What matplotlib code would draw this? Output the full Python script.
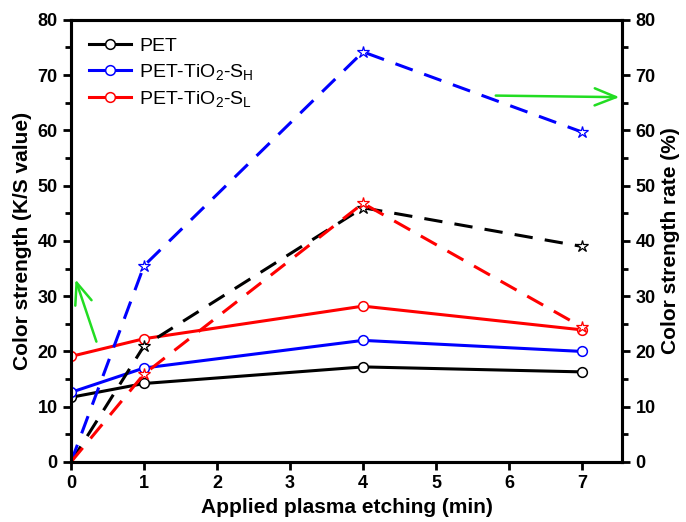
import numpy as np
import matplotlib.pyplot as plt
from matplotlib.ticker import MultipleLocator

plt.rcParams['font.family'] = ['Liberation Sans', 'DejaVu Sans']
plt.rcParams['mathtext.default'] = 'regular'

time = [0, 1, 4, 7]
ks_pet = [11.7, 14.2, 17.2, 16.3]
ks_sh = [12.6, 17.0, 22.0, 20.0]
ks_sl = [19.1, 22.3, 28.2, 23.9]
rate_pet = [0, 21.0, 46.0, 39.0]
rate_sh = [0, 35.5, 74.2, 59.7]
rate_sl = [0, 15.9, 46.8, 24.4]

labels = ['PET', 'PET-TiO$_2$-S$_H$', 'PET-TiO$_2$-S$_L$']
colors = ['black', 'blue', 'red']

fig = plt.figure(figsize=(6.86, 5.22), dpi=100)
ax = fig.add_axes([0.1035, 0.115, 0.8035, 0.847])
ax2 = ax.twinx()

for ks, label, color in zip([ks_pet, ks_sh, ks_sl], labels, colors):
    ax.plot(time, ks, color=color, linewidth=2.2, marker='o', markersize=7,
            markerfacecolor='white', markeredgecolor=color, markeredgewidth=1.1,
            label=label, zorder=3)

for rate, color in zip([rate_pet, rate_sh, rate_sl], colors):
    ax2.plot(time, rate, color=color, linewidth=2.2, linestyle=(0, (6, 4)),
             marker='*', markersize=9, markerfacecolor='white',
             markeredgecolor=color, markeredgewidth=0.9, markevery=[1, 2, 3])

ax.set_xlim(0, 7.55)
ax.set_ylim(0, 80)
ax2.set_ylim(0, 80)
ax.set_xticks(range(8))
for a in (ax, ax2):
    a.yaxis.set_major_locator(MultipleLocator(10))
    a.yaxis.set_minor_locator(MultipleLocator(5))
    a.tick_params(which='major', length=6, width=2, labelsize=13)
    a.tick_params(which='minor', length=4, width=2)
    for s in a.spines.values():
        s.set_linewidth(2.2)
ax.tick_params(axis='x', length=6, width=2, labelsize=13)
for lbl in ax.get_xticklabels() + ax.get_yticklabels() + ax2.get_yticklabels():
    lbl.set_fontweight('bold')

ax.set_xlabel('Applied plasma etching (min)', fontsize=15, fontweight='bold')
ax.set_ylabel('Color strength (K/S value)', fontsize=15, fontweight='bold')
ax2.set_ylabel('Color strength rate (%)', fontsize=15, fontweight='bold')

arrow = dict(arrowstyle='->, head_length=0.55, head_width=0.22',
             color='#22dd22', lw=1.8, mutation_scale=28)
ax.annotate('', xy=(0.05, 33.5), xytext=(0.36, 21.3), arrowprops=arrow)
ax.annotate('', xy=(7.55, 66.0), xytext=(5.78, 66.3), arrowprops=arrow,
            annotation_clip=False)

ax.legend(loc='upper left', fontsize=14, frameon=False, handlelength=2.2,
          handletextpad=0.4, labelspacing=0.35, borderaxespad=0.5)

fig.savefig('out.png', dpi=100)
